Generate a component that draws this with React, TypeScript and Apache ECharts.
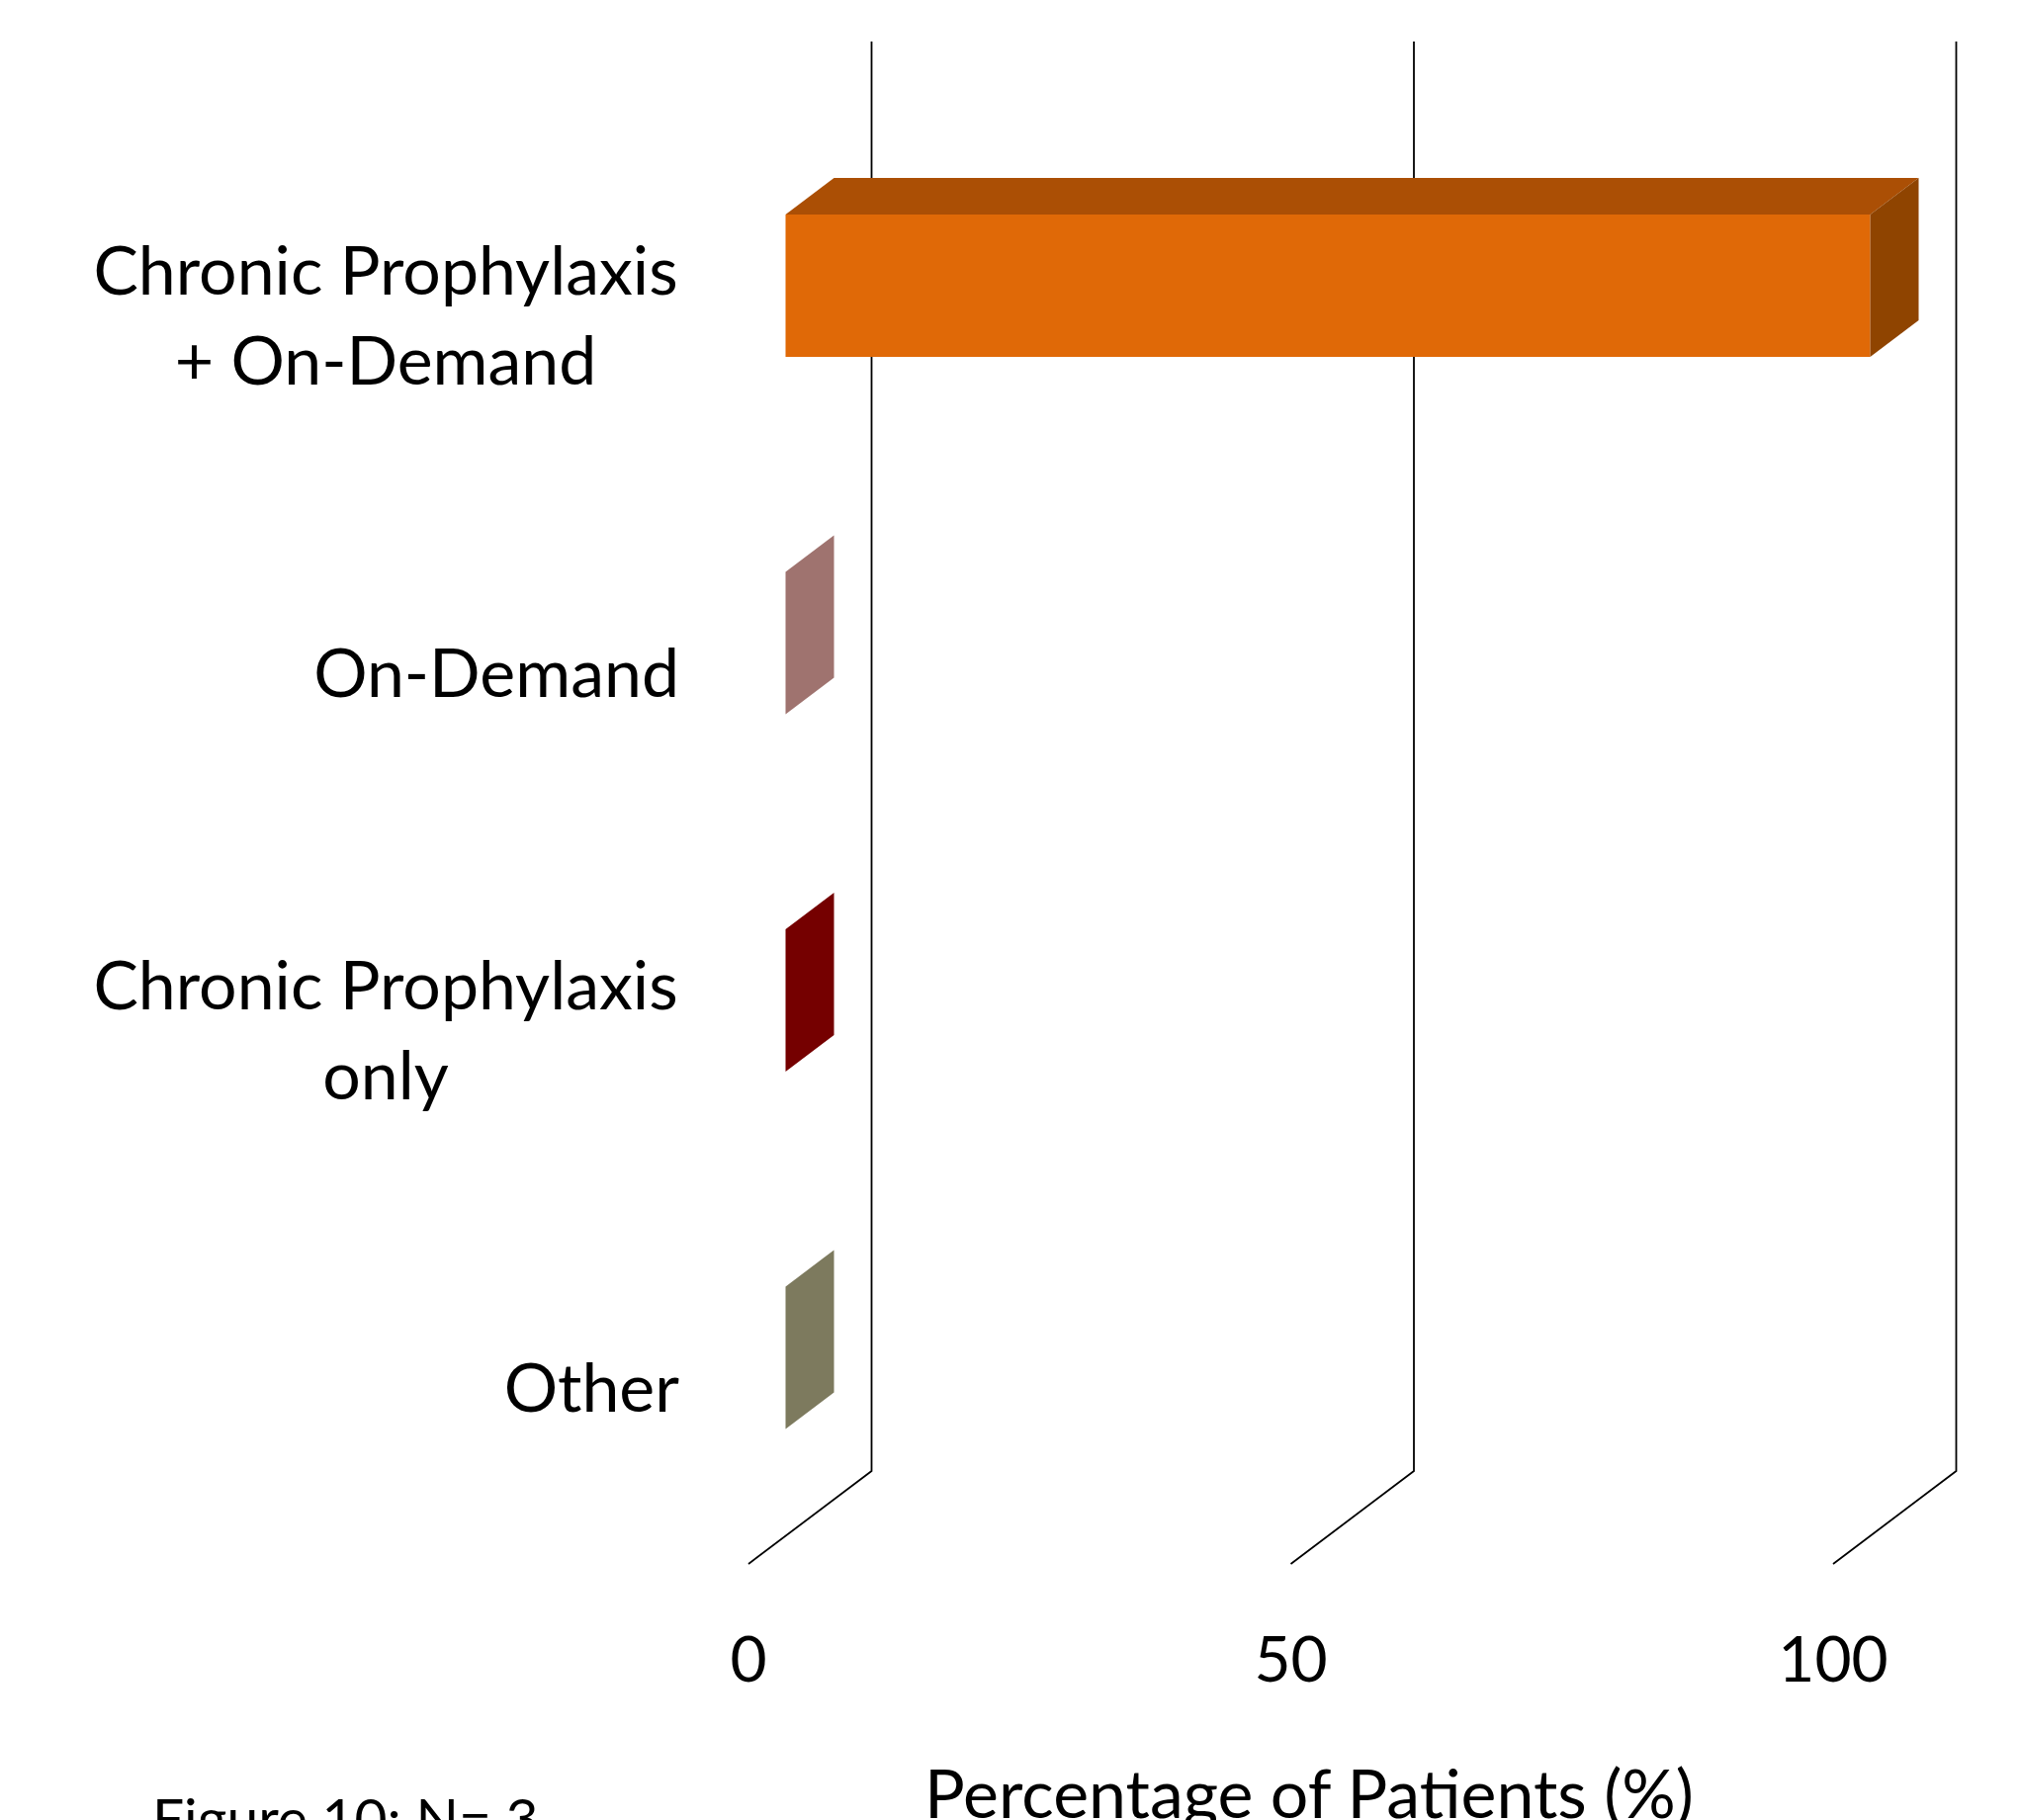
import React, { useEffect, useRef } from "react";
import * as echarts from "echarts";

const categories = ["Chronic Prophylaxis\n+ On-Demand", "On-Demand", "Chronic Prophylaxis\nonly", "Other"];
const values = [100, 0, 0, 0];
const tickValues = [0, 50, 100];
const frontColors = ["#E06907", "#C99A96", "#9A0000", "#A5A17D"];
const topColors = ["#AB4F05", "#9F736F", "#750000", "#7D7A5E"];
const sideColors = ["#8F4400", "#9F736F", "#750000", "#7D7A5E"];
const axisTitle = "Percentage of Patients (%)";
const footnote = "Figure 10: N= 3";

const FONT = "Lato";
const LABEL_WIDTH = 594;

function categoryLabel(value: string) {
  const lines = value.split("\n");
  if (lines.length === 1) return value;
  return lines.map((l) => `{c|${l}}`).join("\n");
}

export default function App() {
  const ref = useRef<HTMLDivElement>(null);
  useEffect(() => {
    const chart = echarts.init(ref.current!, undefined, { renderer: "svg" });
    const wallDx = 124.5;
    const wallDy = 94;
    const barOffsetX = 37.5;
    const barOffsetY = 27.8;
    const barDepthX = 49;
    const barDepthY = 37;
    const barRatio = 0.3985;
    chart.setOption({
      animation: false,
      backgroundColor: "#ffffff",
      grid: { left: 757, top: 136, width: 1097, height: 1446, containLabel: false },
      xAxis: {
        type: "value",
        min: 0,
        max: 100,
        interval: 50,
        axisLine: { show: false },
        axisTick: { show: false },
        splitLine: { show: false },
        axisLabel: { color: "#000", fontFamily: FONT, fontSize: 64, margin: 58, lineHeight: 72 },
      },
      yAxis: {
        type: "category",
        inverse: true,
        data: categories,
        axisLine: { show: false },
        axisTick: { show: false },
        splitLine: { show: false },
        axisLabel: {
          color: "#000",
          fontFamily: FONT,
          fontSize: 68,
          lineHeight: 91,
          margin: 70,
          align: "right",
          formatter: categoryLabel,
          rich: {
            c: { color: "#000", fontFamily: FONT, fontSize: 68, lineHeight: 91, width: LABEL_WIDTH, align: "center" },
          },
        },
      },
      series: [
        {
          type: "custom",
          z: 1,
          silent: true,
          data: tickValues.map((t) => [t, 0]),
          encode: { x: 0, y: 1 },
          renderItem: (params: any, api: any) => {
            const x = api.coord([api.value(0), 0])[0];
            const cs = params.coordSys;
            const floor = cs.y + cs.height;
            return {
              type: "polyline",
              shape: {
                points: [
                  [x, floor],
                  [x + wallDx, floor - wallDy],
                  [x + wallDx, cs.y - wallDy],
                ],
              },
              style: { stroke: "#000", lineWidth: 1.8, fill: "none" },
            };
          },
        },
        {
          type: "custom",
          z: 2,
          silent: true,
          data: values.map((v, i) => [v, i]),
          encode: { x: 0, y: 1 },
          renderItem: (params: any, api: any) => {
            const i = api.value(1);
            const [x1, yc] = api.coord([api.value(0), i]);
            const [x0] = api.coord([0, i]);
            const h = api.size([0, 1])[1] * barRatio;
            const l = x0 + barOffsetX;
            const r = x1 + barOffsetX;
            const t = yc - barOffsetY - h / 2;
            const b = t + h;
            const dx = barDepthX;
            const dy = barDepthY;
            const children: any[] = [];
            if (r > l) {
              children.push({
                type: "polygon",
                shape: { points: [[l, t], [l + dx, t - dy], [r + dx, t - dy], [r, t]] },
                style: { fill: topColors[i] },
              });
              children.push({
                type: "rect",
                shape: { x: l, y: t, width: r - l, height: h },
                style: { fill: frontColors[i] },
              });
            }
            children.push({
              type: "polygon",
              shape: { points: [[r, t], [r + dx, t - dy], [r + dx, b - dy], [r, b]] },
              style: { fill: sideColors[i] },
            });
            return { type: "group", children };
          },
        },
      ],
      graphic: [
        {
          type: "text",
          left: 935,
          top: 1778,
          style: { text: axisTitle, fill: "#000", font: `68px ${FONT}` },
        },
        {
          type: "text",
          left: 154,
          top: 1809,
          style: { text: footnote, fill: "#000", font: `57px ${FONT}` },
        },
      ],
    });
    return () => chart.dispose();
  }, []);
  return <div ref={ref} style={{ position: "absolute", left: 0, top: 0, width: 2042, height: 1841, overflow: "hidden" }} />;
}
